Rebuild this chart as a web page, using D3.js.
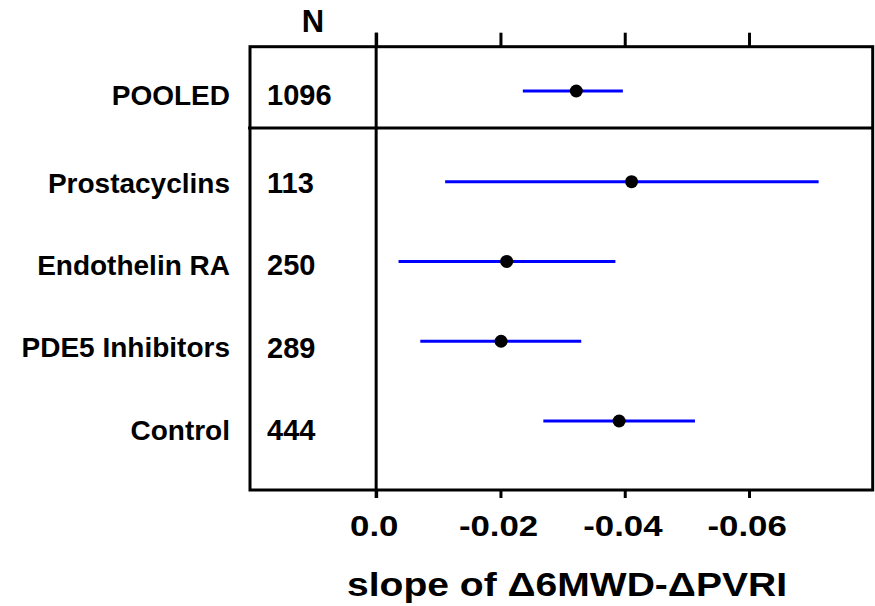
<!DOCTYPE html>
<html>
<head>
<meta charset="utf-8">
<script src="https://cdn.jsdelivr.net/npm/d3@7"></script>
<style>
  html, body { margin: 0; padding: 0; background: #fff; }
  svg { display: block; }
  text { font-family: "Liberation Sans", Arial, sans-serif; font-weight: bold; fill: #000; }
</style>
</head>
<body>
<svg id="chart" width="875" height="606"></svg>
<script>
(() => {
  const svg = d3.select("#chart");

  // data (slope, negative to the right)
  const pooled = { label: "POOLED", n: 1096, est: -0.0322, lo: -0.0236, hi: -0.0397 };
  const groups = ["Prostacyclins", "Endothelin RA", "PDE5 Inhibitors", "Control"];
  const groupN = [113, 250, 289, 444];
  const groupEst = [-0.0411, -0.0210, -0.0201, -0.0391];
  const groupLo = [-0.0111, -0.0036, -0.0071, -0.0269];
  const groupHi = [-0.0712, -0.0385, -0.0330, -0.0513];
  const tickVals = [0, -0.02, -0.04, -0.06];
  const tickLabels = ["0.0", "-0.02", "-0.04", "-0.06"];

  const box = { left: 250, right: 872.7, top: 46.7, bottom: 490, split: 128 };

  const x = d3.scaleLinear().domain([0.0203, -0.0799]).range([box.left, box.right]);
  // rows of the lower panel
  const yRow = d3.scalePoint().domain(groups).range([181.7, 421]);
  const yLab = d3.scalePoint().domain(groups).range([182.5, 429.5]);
  const yPooled = 91, yPooledLab = 95;

  // axes
  const fmt = d => tickLabels[tickVals.indexOf(d)];
  const gb = svg.append("g").attr("transform", `translate(0,${box.bottom})`)
    .call(d3.axisBottom(x).tickValues(tickVals).tickFormat(fmt).tickSize(8).tickSizeOuter(0));
  gb.select(".domain").remove();
  gb.selectAll(".tick line").attr("stroke", "#000").attr("stroke-width", 3);
  gb.selectAll(".tick text")
    .attr("y", 46).attr("dy", null)
    .attr("x", -2)
    .attr("font-size", 29)
    .attr("font-family", "Liberation Sans, Arial, sans-serif")
    .attr("font-weight", "bold")
    .attr("fill", "#000")
    .attr("transform", "scale(1.2,1)");

  const gt = svg.append("g").attr("transform", `translate(0,${box.top})`)
    .call(d3.axisTop(x).tickValues(tickVals).tickFormat("").tickSize(14).tickSizeOuter(0));
  gt.select(".domain").remove();
  gt.selectAll(".tick line").attr("stroke", "#000").attr("stroke-width", 3);

  // frame
  svg.append("rect")
    .attr("x", box.left).attr("y", box.top)
    .attr("width", box.right - box.left).attr("height", box.bottom - box.top)
    .attr("fill", "none").attr("stroke", "#000").attr("stroke-width", 3);
  svg.append("line")
    .attr("x1", box.left - 2).attr("x2", box.right)
    .attr("y1", box.split).attr("y2", box.split)
    .attr("stroke", "#000").attr("stroke-width", 3);
  svg.append("line")
    .attr("x1", x(0)).attr("x2", x(0))
    .attr("y1", box.top - 14).attr("y2", box.bottom + 8)
    .attr("stroke", "#000").attr("stroke-width", 3);

  // intervals
  const rows = groups.map((g, i) => ({ label: g, n: groupN[i], est: groupEst[i], lo: groupLo[i], hi: groupHi[i], y: yRow(g), ly: yLab(g) }));
  rows.unshift(Object.assign({}, pooled, { y: yPooled, ly: yPooledLab }));

  svg.selectAll("line.ci").data(rows).join("line")
    .attr("class", "ci")
    .attr("x1", d => x(d.lo)).attr("x2", d => x(d.hi))
    .attr("y1", d => d.y).attr("y2", d => d.y)
    .attr("stroke", "#0000ff").attr("stroke-width", 3);
  svg.selectAll("circle.est").data(rows).join("circle")
    .attr("class", "est")
    .attr("cx", d => x(d.est)).attr("cy", d => d.y).attr("r", 6.5)
    .attr("fill", "#000");

  // labels and N
  svg.selectAll("text.lab").data(rows).join("text")
    .attr("class", "lab")
    .attr("x", 230).attr("y", d => d.ly).attr("dy", "0.36em")
    .attr("text-anchor", "end").attr("font-size", 28)
    .text(d => d.label);
  svg.selectAll("text.n").data(rows).join("text")
    .attr("class", "n")
    .attr("x", 267).attr("y", d => d.ly).attr("dy", "0.36em")
    .attr("font-size", 29)
    .text(d => d.n);
  svg.append("text")
    .attr("x", 313).attr("y", 32)
    .attr("text-anchor", "middle").attr("font-size", 31)
    .text("N");

  // x title
  svg.append("text")
    .attr("x", 347).attr("y", 596)
    .attr("font-size", 33)
    .attr("textLength", 440).attr("lengthAdjust", "spacingAndGlyphs")
    .text("slope of \u03946MWD-\u0394PVRI");
})();
</script>
</body>
</html>
